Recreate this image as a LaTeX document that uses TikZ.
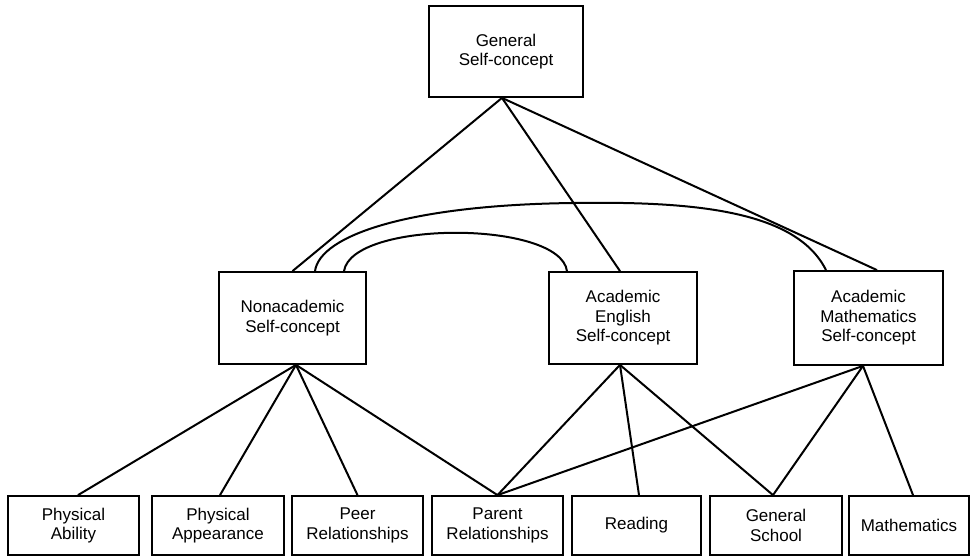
\documentclass[tikz,border=0pt]{standalone}
\usepackage{fontspec}
\setmainfont{Liberation Sans}
\begin{document}
\begin{tikzpicture}[x=1pt,y=-1pt,
  box/.style={draw,line width=1.8pt,inner sep=0pt,align=center,
    font=\fontsize{17}{19.5}\selectfont},
  link/.style={line width=2pt}]
\useasboundingbox (0,0) rectangle (972,556);
% top
\node[box,minimum width=154pt,minimum height=91pt] (gen) at (506,51.5) {General\\Self-concept};
% middle
\node[box,minimum width=147pt,minimum height=92pt] (nac) at (292.5,318) {Nonacademic\\Self-concept};
\node[box,minimum width=148pt,minimum height=92pt] (eng) at (623,318) {Academic\\English\\Self-concept};
\node[box,minimum width=149pt,minimum height=94pt] (mat) at (868.5,318) {Academic\\Mathematics\\Self-concept};
% bottom
\node[box,minimum width=131pt,minimum height=59pt] (pa) at (73.5,525.5) {Physical\\Ability};
\node[box,minimum width=132pt,minimum height=59pt] (pap) at (218,525.5) {Physical\\Appearance};
\node[box,minimum width=131pt,minimum height=59pt] (peer) at (357.5,525.5) {Peer\\Relationships};
\node[box,minimum width=131pt,minimum height=59pt] (par) at (497.5,525.5) {Parent\\Relationships};
\node[box,minimum width=129pt,minimum height=59pt] (rd) at (636.5,525.5) {Reading};
\node[box,minimum width=132pt,minimum height=59pt] (gs) at (776,525.5) {General\\School};
\node[box,minimum width=120pt,minimum height=59pt] (mth) at (909,525.5) {Mathematics};
% top links
\draw[link] ([xshift=-4pt]gen.south) -- (nac.north);
\draw[link] ([xshift=-4pt]gen.south) -- ([xshift=-3pt]eng.north);
\draw[link] ([xshift=-4pt]gen.south) -- ([xshift=8.5pt]mat.north);
% arcs
\draw[link] ([xshift=22.5pt]nac.north) .. controls (320,235) and (410,205) .. (573,203)
  .. controls (700,201) and (797,212) .. ([xshift=-42.5pt]mat.north);
\draw[link] ([xshift=51.5pt]nac.north) .. controls (352,220) and (560,220) .. ([xshift=-56pt]eng.north);
% lower links
\draw[link] ([xshift=3.5pt]nac.south) -- ([xshift=4.5pt]pa.north);
\draw[link] ([xshift=3.5pt]nac.south) -- ([xshift=2pt]pap.north);
\draw[link] ([xshift=3.5pt]nac.south) -- (peer.north);
\draw[link] ([xshift=3.5pt]nac.south) -- (par.north);
\draw[link] ([xshift=-3pt]eng.south) -- (par.north);
\draw[link] ([xshift=-3pt]eng.south) -- ([xshift=2.5pt]rd.north);
\draw[link] ([xshift=-3pt]eng.south) -- ([xshift=-3pt]gs.north);
\draw[link] ([xshift=-5.5pt]mat.south) -- (par.north);
\draw[link] ([xshift=-5.5pt]mat.south) -- ([xshift=-3pt]gs.north);
\draw[link] ([xshift=-5.5pt]mat.south) -- ([xshift=4pt]mth.north);
\end{tikzpicture}
\end{document}
